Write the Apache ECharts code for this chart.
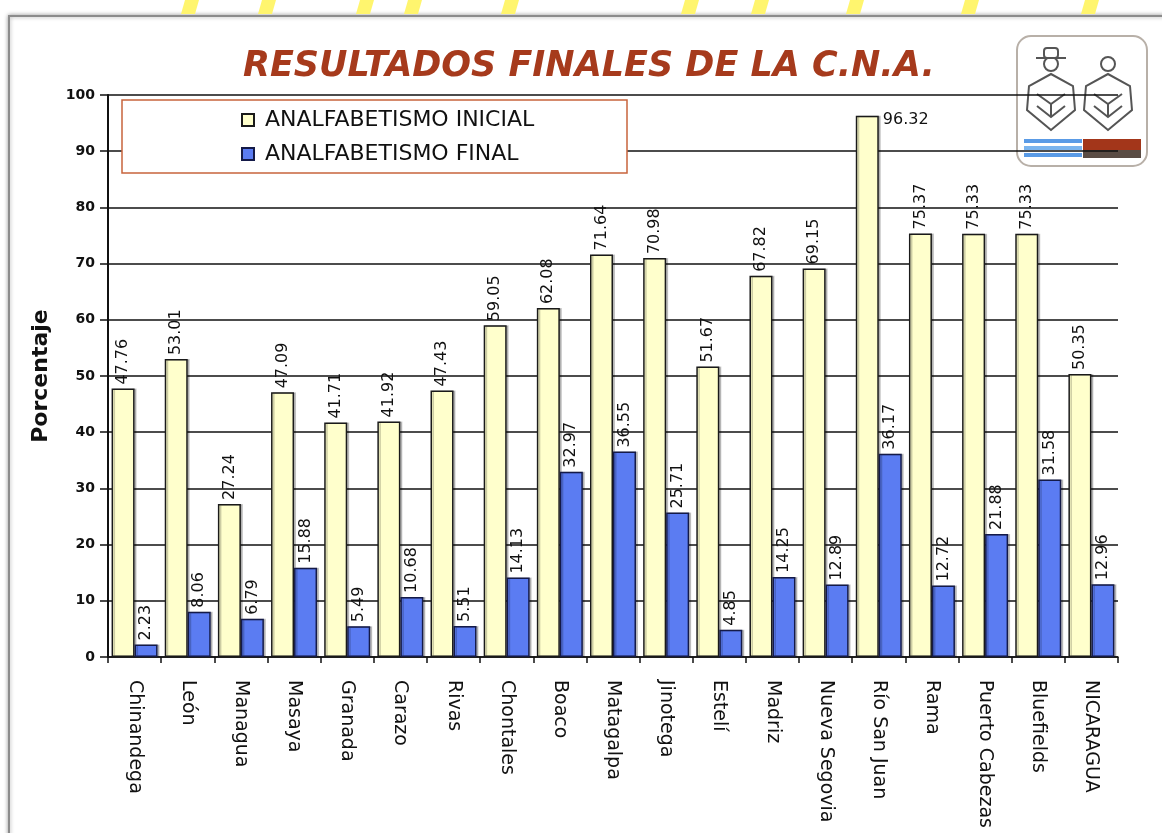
<!DOCTYPE html>
<html>
<head>
<meta charset="utf-8">
<title>Resultados finales de la C.N.A.</title>
<script src="https://cdn.jsdelivr.net/npm/echarts@6/dist/echarts.min.js"></script>
<style>
  html, body { margin: 0; padding: 0; background: #fff; }
  #container { width: 1162px; height: 833px; }
</style>
</head>
<body>
<div id="container"></div>
<script>
var departamentos = ['Chinandega', 'León', 'Managua', 'Masaya', 'Granada', 'Carazo', 'Rivas',
    'Chontales', 'Boaco', 'Matagalpa', 'Jinotega', 'Estelí', 'Madriz', 'Nueva Segovia',
    'Río San Juan', 'Rama', 'Puerto Cabezas', 'Bluefields', 'NICARAGUA'];
var inicial = [47.76, 53.01, 27.24, 47.09, 41.71, 41.92, 47.43, 59.05, 62.08, 71.64,
    70.98, 51.67, 67.82, 69.15, 96.32, 75.37, 75.33, 75.33, 50.35];
var final = [2.23, 8.06, 6.79, 15.88, 5.49, 10.68, 5.51, 14.13, 32.97, 36.55,
    25.71, 4.85, 14.25, 12.89, 36.17, 12.72, 21.88, 31.58, 12.96];
var yTicks = [0, 10, 20, 30, 40, 50, 60, 70, 80, 90, 100];

var FONT = 'DejaVu Sans';
var myChart = echarts.init(document.getElementById('container'));

// etiqueta vertical sobre cada barra
var barLabel = {
    show: true,
    position: 'top',
    rotate: 90,
    align: 'left',
    verticalAlign: 'middle',
    distance: 4,
    fontFamily: FONT,
    fontSize: 16,
    color: '#111',
    formatter: function (p) { return p.value.toFixed(2); }
};

// el valor máximo no cabe arriba: va horizontal a la derecha
var maxInicial = Math.max.apply(null, inicial);
var inicialData = inicial.map(function (v) {
    if (v !== maxInicial) return v;
    return { value: v, label: { rotate: 0, position: [27, -4], align: 'left', verticalAlign: 'top' } };
});

// logo (decorativo)
function logoPerson(cx) {
    var body = [[cx, 74], [cx - 22, 86], [cx - 24, 110], [cx, 130], [cx + 24, 110], [cx + 22, 86]];
    return [
        { type: 'polygon', shape: { points: body }, style: { fill: 'none', stroke: '#555', lineWidth: 2 } },
        { type: 'polyline', shape: { points: [[cx - 14, 94], [cx, 104], [cx + 14, 94]] }, style: { stroke: '#555', lineWidth: 2 } },
        { type: 'polyline', shape: { points: [[cx - 14, 106], [cx, 117], [cx + 14, 106]] }, style: { stroke: '#555', lineWidth: 2 } },
        { type: 'line', shape: { x1: cx, y1: 104, x2: cx, y2: 117 }, style: { stroke: '#555', lineWidth: 2 } },
        { type: 'circle', shape: { cx: cx, cy: 64, r: 7 }, style: { fill: '#fff', stroke: '#555', lineWidth: 2 } }
    ];
}

var logoEls = [
    { type: 'rect', shape: { x: 1017, y: 36, width: 130, height: 130, r: 14 },
      style: { fill: '#fff', stroke: '#b8b0a8', lineWidth: 2 } }
].concat(logoPerson(1051), logoPerson(1108), [
    { type: 'line', shape: { x1: 1036, y1: 58, x2: 1066, y2: 58 }, style: { stroke: '#555', lineWidth: 2 } },
    { type: 'rect', shape: { x: 1044, y: 48, width: 14, height: 10, r: 3 }, style: { fill: '#fff', stroke: '#555', lineWidth: 2 } },
    { type: 'rect', shape: { x: 1024, y: 139, width: 58, height: 4 }, style: { fill: '#5a9be6' } },
    { type: 'rect', shape: { x: 1024, y: 146, width: 58, height: 4 }, style: { fill: '#7ab4ee' } },
    { type: 'rect', shape: { x: 1024, y: 153, width: 58, height: 4 }, style: { fill: '#5a9be6' } },
    { type: 'rect', shape: { x: 1083, y: 139, width: 58, height: 11 }, style: { fill: '#a3361a' } },
    { type: 'rect', shape: { x: 1083, y: 150, width: 58, height: 8 }, style: { fill: '#5a4c44' } }
]);

// marca de agua amarilla cortada arriba
var waterX = [185, 262, 360, 408, 505, 685, 755, 850, 965, 1085];
var waterEls = waterX.map(function (x) {
    return { type: 'polygon', shape: { points: [[x, 0], [x + 14, 0], [x + 10, 14], [x - 4, 14]] },
        style: { fill: '#fff56e' } };
});

var option = {
    backgroundColor: '#fff',
    animation: false,
    textStyle: { fontFamily: FONT },
    title: {
        text: 'RESULTADOS FINALES DE LA C.N.A.',
        left: 238,
        top: 44,
        textStyle: {
            fontFamily: FONT,
            fontSize: 35,
            fontWeight: 'bold',
            fontStyle: 'italic',
            color: '#a63a1c',
            textShadowColor: 'rgba(0,0,0,0.25)',
            textShadowOffsetX: 1,
            textShadowOffsetY: 1
        }
    },
    legend: {
        data: ['ANALFABETISMO INICIAL', 'ANALFABETISMO FINAL'],
        orient: 'vertical',
        left: 236,
        top: 104,
        itemWidth: 12,
        itemHeight: 12,
        itemGap: 12,
        icon: 'rect',
        selectedMode: false,
        z: 6,
        textStyle: { fontFamily: FONT, fontSize: 22, color: '#111', padding: [0, 0, 0, 6] }
    },
    grid: { left: 108, right: 44, top: 95, bottom: 176, outerBoundsMode: 'none' },
    xAxis: {
        type: 'category',
        data: departamentos,
        axisLine: { lineStyle: { color: '#111', width: 1.5 } },
        axisTick: { show: true, length: 6, lineStyle: { color: '#111', width: 1.5 } },
        axisLabel: { interval: 0, rotate: -90, margin: 23, fontFamily: FONT, fontSize: 19, color: '#111' }
    },
    yAxis: {
        type: 'value',
        min: yTicks[0],
        max: yTicks[yTicks.length - 1],
        interval: 10,
        name: 'Porcentaje',
        nameLocation: 'middle',
        nameGap: 56,
        nameTextStyle: { fontFamily: FONT, fontSize: 22, fontWeight: 'bold', color: '#111' },
        axisLine: { show: true, lineStyle: { color: '#111', width: 2 } },
        axisTick: { show: true, length: 8, lineStyle: { color: '#111', width: 1.5 } },
        axisLabel: { margin: 13, fontFamily: FONT, fontSize: 14, fontWeight: 'bold', color: '#111' },
        splitLine: { lineStyle: { color: '#111', width: 1.5 } }
    },
    series: [
        {
            name: 'ANALFABETISMO INICIAL',
            type: 'bar',
            data: inicialData,
            barWidth: 23,
            barGap: '0%',
            itemStyle: { color: '#ffffcc', borderColor: '#1a1a1a', borderWidth: 1.5,
                shadowColor: 'rgba(0,0,0,0.2)', shadowOffsetX: 2 },
            label: barLabel
        },
        {
            name: 'ANALFABETISMO FINAL',
            type: 'bar',
            data: final,
            barWidth: 23,
            itemStyle: { color: '#5b7cf2', borderColor: '#141a48', borderWidth: 1.5,
                shadowColor: 'rgba(0,0,0,0.2)', shadowOffsetX: 2 },
            label: barLabel
        }
    ],
    graphic: {
        elements: [
            { type: 'rect', z: -10, silent: true, shape: { x: 9, y: 16, width: 1200, height: 900 },
              style: { fill: '#fff', stroke: '#8c8c8c', lineWidth: 2, shadowColor: 'rgba(0,0,0,0.35)', shadowBlur: 4 } },
            { type: 'rect', z: 3, silent: true, shape: { x: 122, y: 100, width: 505, height: 73 },
              style: { fill: '#fff', stroke: '#c8643c', lineWidth: 1.5 } },
            { type: 'group', z: 5, silent: true, children: logoEls },
            { type: 'group', z: 5, silent: true, children: waterEls }
        ]
    }
};

myChart.setOption(option);
</script>
</body>
</html>
